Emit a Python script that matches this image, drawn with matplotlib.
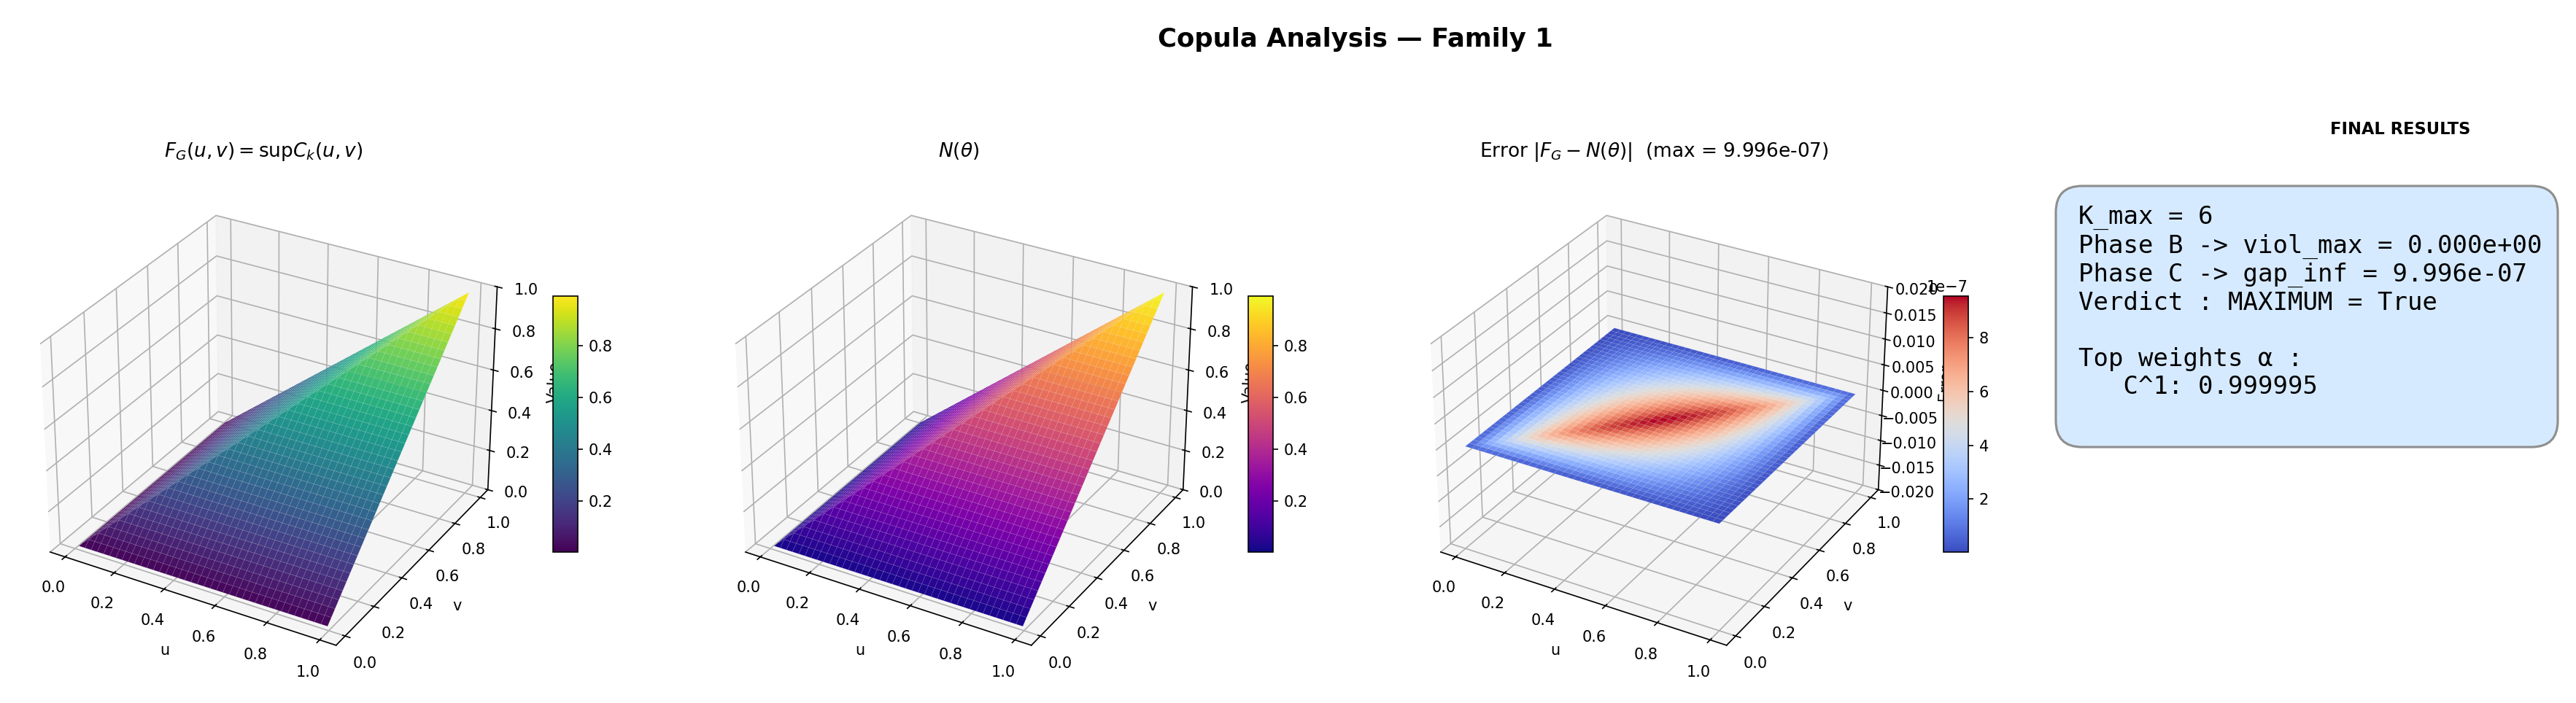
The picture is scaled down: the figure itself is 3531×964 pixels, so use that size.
import numpy as np
import matplotlib
matplotlib.use("Agg")
import matplotlib.pyplot as plt
from matplotlib.patches import FancyBboxPatch

W, H, DPI = 3531, 964, 150

u_grid = [0.010, 0.035, 0.060, 0.085, 0.111, 0.136, 0.161, 0.186, 0.211, 0.236,
          0.261, 0.286, 0.312, 0.337, 0.362, 0.387, 0.412, 0.437, 0.462, 0.487,
          0.513, 0.538, 0.563, 0.588, 0.613, 0.638, 0.663, 0.688, 0.714, 0.739,
          0.764, 0.789, 0.814, 0.839, 0.864, 0.889, 0.915, 0.940, 0.965, 0.990]
v_grid = list(u_grid)

# surface height on the upper triangle (row i, columns i..39), mirrored below
fg_upper = [[0.010]*40, [0.035]*39, [0.060]*38, [0.085]*37, [0.111]*36, [0.136]*35, [0.161]*34, [0.186]*33,
            [0.211]*32, [0.236]*31, [0.261]*30, [0.286]*29, [0.312]*28, [0.337]*27, [0.362]*26, [0.387]*25,
            [0.412]*24, [0.437]*23, [0.462]*22, [0.487]*21, [0.513]*20, [0.538]*19, [0.563]*18, [0.588]*17,
            [0.613]*16, [0.638]*15, [0.663]*14, [0.688]*13, [0.714]*12, [0.739]*11, [0.764]*10, [0.789]*9,
            [0.814]*8, [0.839]*7, [0.864]*6, [0.889]*5, [0.915]*4, [0.940]*3, [0.965]*2, [0.990]*1]

# error in units of 1e-8, same upper triangle layout
err_upper = [
    [4,4,4,4,3,3,3,3,3,3,3,3,3,3,2,2,2,2,2,2,2,2,2,2,2,1,1,1,1,1,1,1,1,1,1,0,0,0,0,0],
    [13,13,13,12,12,12,11,11,10,10,10,9,9,9,8,8,8,7,7,7,6,6,6,5,5,5,4,4,4,3,3,3,2,2,2,1,1,0,0],
    [22,22,21,20,20,19,19,18,17,17,16,16,15,14,14,13,13,12,11,11,10,10,9,9,8,7,7,6,6,5,4,4,3,3,2,1,1,0],
    [30,30,29,28,27,26,25,25,24,23,22,21,20,20,19,18,17,16,15,15,14,13,12,11,10,10,9,8,7,6,5,5,4,3,2,1,0],
    [39,38,36,35,34,33,32,31,30,29,28,27,26,24,23,22,21,20,19,18,17,16,15,14,12,11,10,9,8,7,6,5,4,3,2,0],
    [46,45,43,42,41,39,38,37,35,34,33,31,30,29,27,26,25,23,22,21,19,18,17,15,14,13,11,10,9,7,6,5,3,2,1],
    [53,51,50,48,47,45,43,42,40,39,37,36,34,32,31,29,28,26,24,23,21,20,18,16,15,13,12,10,9,7,5,4,2,1],
    [59,58,56,54,52,50,48,47,45,43,41,39,37,36,34,32,30,28,26,25,23,21,19,17,15,14,12,10,8,6,4,3,1],
    [65,63,61,59,57,55,53,51,49,47,44,42,40,38,36,34,32,30,28,26,24,22,20,17,15,13,11,9,7,5,3,1],
    [71,68,66,64,61,59,57,54,52,50,47,45,43,40,38,36,33,31,29,26,24,22,20,17,15,13,10,8,6,3,1],
    [76,73,70,68,65,63,60,58,55,52,50,47,45,42,40,37,34,32,29,27,24,22,19,16,14,11,9,6,4,1],
    [80,77,74,72,69,66,63,60,58,55,52,49,46,43,41,38,35,32,29,26,24,21,18,15,12,10,7,4,1],
    [84,81,78,75,72,69,66,63,60,57,53,50,47,44,41,38,35,32,29,26,23,20,17,14,10,7,4,1],
    [88,84,81,78,74,71,68,64,61,58,54,51,48,45,41,38,34,31,28,25,21,18,15,11,8,5,1],
    [91,87,83,80,76,73,69,66,62,58,55,51,48,44,41,37,33,30,26,23,19,16,12,9,5,1],
    [93,89,85,82,78,74,70,66,62,59,55,51,47,43,40,36,32,28,24,21,17,13,9,5,2],
    [95,91,87,83,79,75,71,67,62,58,54,50,46,42,38,34,30,26,22,18,14,10,6,2],
    [96,92,88,83,79,75,71,66,62,58,53,49,45,40,36,32,28,23,19,15,10,6,2],
    [97,93,88,84,79,75,70,66,61,57,52,47,43,38,34,29,25,20,15,11,6,2],
    [98,93,88,83,79,74,69,64,60,55,50,45,40,36,31,26,21,16,11,7,2],
    [98,93,88,83,78,73,68,63,58,52,47,42,37,32,27,22,17,12,7,2],
    [97,92,87,82,76,71,66,60,55,50,44,39,34,29,23,18,13,7,2],
    [96,91,85,80,74,69,63,58,52,47,41,36,30,24,19,13,8,2],
    [95,89,83,78,72,66,60,54,49,43,37,31,26,20,14,8,2],
    [93,87,81,75,69,63,57,51,45,39,33,27,20,14,8,2],
    [91,84,78,72,65,59,53,47,40,34,28,21,15,9,3],
    [88,81,74,68,61,55,48,42,35,29,22,16,9,3],
    [84,77,70,64,57,50,43,37,30,23,16,9,3],
    [80,73,66,59,52,45,38,31,24,17,10,3],
    [76,68,61,54,47,39,32,25,17,10,3],
    [71,63,56,48,41,33,25,18,10,3],
    [65,58,50,42,34,26,19,11,3],
    [59,51,43,35,27,19,11,3],
    [53,45,36,28,20,12,3],
    [46,38,29,20,12,3],
    [39,30,21,12,3],
    [30,22,13,4],
    [22,13,4],
    [13,4],
    [4],
]

color_range = [(0.003, 0.99), (0.003, 0.99), (0.02e-7, 9.56e-7)]

panel_title = "FINAL RESULTS"
panel_lines = ["K_max = 6",
               "Phase B -> viol_max = 0.000e+00",
               "Phase C -> gap_inf = 9.996e-07",
               "Verdict : MAXIMUM = True",
               "",
               "Top weights \u03b1 :",
               "   C^1: 0.999995"]


def full_matrix(rows):
    Z = np.zeros((40, 40))
    for i, row in enumerate(rows):
        Z[i, i:] = row
        Z[i:, i] = row
    return Z


U, V = np.meshgrid(u_grid, v_grid)
Z_fg = full_matrix(fg_upper)
Z_n = Z_fg.copy()
Z_err = full_matrix(err_upper) * 1e-8


def box(left, top, right, bottom):
    return [left / W, 1 - bottom / H, (right - left) / W, (bottom - top) / H]


fig = plt.figure(figsize=(W / DPI, H / DPI), dpi=DPI)
fig.text(1858 / W, 1 - 54 / H, "Copula Analysis \u2014 Family 1", fontsize=17, fontweight="bold",
         ha="center", va="center", family="DejaVu Sans")

titles = [r"$F_G(u,v) = \sup C_k(u,v)$", r"$N(\theta)$",
          r"Error $|F_G - N(\theta)|$  (max = 9.996e-07)"]
surfaces = [Z_fg, Z_n, Z_err]
cmaps = ["viridis", "plasma", "coolwarm"]
zlabels = ["Value", "Value", "Error"]
offsets = [0, 953, 1906]

for k in range(3):
    off = offsets[k]
    ax = fig.add_axes(box(19 + off, 239, 711 + off, 931), projection="3d")
    ax.set_box_aspect((4, 4, 2.9))
    surf = ax.plot_surface(U, V, surfaces[k], cmap=cmaps[k], linewidth=0.4,
                           edgecolor=(1, 1, 1, 0.07), antialiased=True)
    surf.set_clim(*color_range[k])
    ax.set_title(titles[k], fontsize=12.7, x=0.495, y=1.0, pad=38)
    ax.set_xlabel("u")
    ax.set_ylabel("v")
    ax.set_zlabel(zlabels[k])
    if k == 2:
        ax.set_zlim(-0.02, 0.02)
    else:
        ax.set_zlim(0, 1)
    cax = fig.add_axes(box(758 + off, 406, 792 + off, 757))
    cb = fig.colorbar(surf, cax=cax)

# results panel
ov = fig.add_axes([0, 0, 1, 1], zorder=-1)
ov.set_xlim(0, W)
ov.set_ylim(H, 0)
ov.axis("off")
ov.add_patch(FancyBboxPatch((2818, 255), 688, 358, boxstyle="round,pad=0,rounding_size=36",
                            facecolor="#d6eaff", edgecolor="#8f8f8f", linewidth=1.5))
ov.text(3290, 178, panel_title, fontsize=10.8, fontweight="bold", ha="center", va="center")
ov.text(2849, 282, "\n".join(panel_lines), fontsize=16.3, family="DejaVu Sans Mono", ha="left", va="top")

fig.savefig("out.png", dpi=DPI)
